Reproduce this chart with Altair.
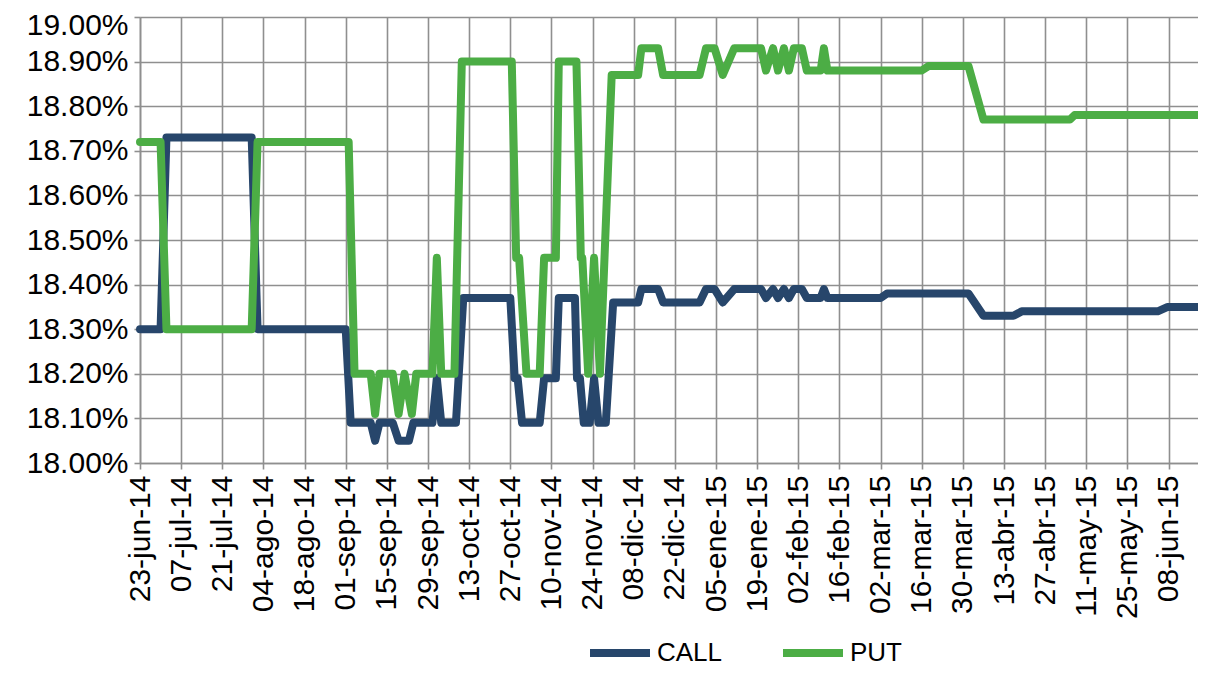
import json
import altair as alt
import pandas as pd

# ---- data (day offsets from 23-jun-2014, values in %) ----
START = "2014-06-23"
END_DAY = 360

call_days = [0, 7, 9, 38, 40, 70, 71.7,
             78.5, 80, 81.5,
             86, 88, 91.5, 93,
             99.5, 101, 102.5,
             107.5, 110,
             126, 127.5, 128.5, 130, 136, 137.5, 141.5, 142.5, 148, 148.7, 149.7, 151, 153, 154.5, 156, 158.5, 161,
             169.5, 170.6, 176.3, 178, 190.4, 192.6, 195.5, 198.3, 202.2, 211.3, 213, 215.4, 217.1, 219.1, 220.8,
             222.5, 225.2, 226.9, 231.6, 232.7, 233.9, 252, 254.2, 281.9, 287, 297.2, 300, 346.3, 349.7, 360]
call_vals = [18.30, 18.30, 18.73, 18.73, 18.30, 18.30, 18.09,
             18.09, 18.05, 18.09,
             18.09, 18.05, 18.05, 18.09,
             18.09, 18.19, 18.09,
             18.09, 18.37,
             18.37, 18.19, 18.19, 18.09, 18.09, 18.19, 18.19, 18.37, 18.37, 18.19, 18.19, 18.09, 18.09, 18.19, 18.09, 18.09, 18.36,
             18.36, 18.39, 18.39, 18.36, 18.36, 18.39, 18.39, 18.36, 18.39, 18.39, 18.37, 18.39, 18.37, 18.39, 18.37,
             18.39, 18.39, 18.37, 18.37, 18.39, 18.37, 18.37, 18.38, 18.38, 18.33, 18.33, 18.34, 18.34, 18.35, 18.35]

put_days = [0, 7, 9, 38, 40, 71, 73,
            78.5, 80, 81.5,
            86, 88, 90, 92.5, 94,
            99.5, 101, 102.5,
            107, 109.5,
            126.5, 128, 129, 131.5, 136, 137.5, 141.5, 142.5, 148.5, 150, 150.5, 152.5, 154.5, 156.5, 160.5,
            169.5, 170.6, 176.3, 178, 190.4, 192.6, 195.5, 198.3, 202.2, 211.3, 213, 215.4, 217.1, 219.1, 220.8,
            222.5, 225.2, 226.9, 231.6, 232.7, 233.9, 266, 268.3, 281.9, 287, 316.4, 318, 360]
put_vals = [18.72, 18.72, 18.30, 18.30, 18.72, 18.72, 18.20,
            18.20, 18.11, 18.20,
            18.20, 18.11, 18.20, 18.11, 18.20,
            18.20, 18.46, 18.20,
            18.20, 18.90,
            18.90, 18.46, 18.46, 18.20, 18.20, 18.46, 18.46, 18.90, 18.90, 18.46, 18.46, 18.20, 18.46, 18.20, 18.87,
            18.87, 18.93, 18.93, 18.87, 18.87, 18.93, 18.93, 18.87, 18.93, 18.93, 18.88, 18.93, 18.88, 18.93, 18.88,
            18.93, 18.93, 18.88, 18.88, 18.93, 18.88, 18.88, 18.89, 18.89, 18.77, 18.77, 18.78, 18.78]

series_names = ["CALL", "PUT"]
series_colors = ["#27466B", "#4CAD45"]

tick_dates = ["2014-06-23", "2014-07-07", "2014-07-21", "2014-08-04", "2014-08-18", "2014-09-01",
              "2014-09-15", "2014-09-29", "2014-10-13", "2014-10-27", "2014-11-10", "2014-11-24",
              "2014-12-08", "2014-12-22", "2015-01-05", "2015-01-19", "2015-02-02", "2015-02-16",
              "2015-03-02", "2015-03-16", "2015-03-30", "2015-04-13", "2015-04-27", "2015-05-11",
              "2015-05-25", "2015-06-08"]
meses = ["ene", "feb", "mar", "abr", "may", "jun", "jul", "ago", "sep", "oct", "nov", "dic"]
y_ticks = [18.0, 18.1, 18.2, 18.3, 18.4, 18.5, 18.6, 18.7, 18.8, 18.9, 19.0]

# ---- build table ----
t0 = pd.Timestamp(START)
rows = []
for name, days, vals in [("CALL", call_days, call_vals), ("PUT", put_days, put_vals)]:
    for i, (d, v) in enumerate(zip(days, vals)):
        rows.append({"fecha": t0 + pd.to_timedelta(d, unit="D"), "valor": v, "serie": name, "orden": i})
df = pd.DataFrame(rows)


def dt(s):
    ts = pd.Timestamp(s)
    return alt.DateTime(year=ts.year, month=ts.month, date=ts.day)


end_ts = t0 + pd.to_timedelta(END_DAY, unit="D")

FONT = "Liberation Sans"
GRID = "#8f8f8f"
FS = 30
LFS = 26

label_expr = ("timeFormat(datum.value, '%d') + '-' + " + json.dumps(meses).replace('"', "'")
              + "[month(datum.value)] + '-' + timeFormat(datum.value, '%y')")

chart = alt.Chart(df).mark_line(strokeWidth=8, strokeCap="round", strokeJoin="round").encode(
    x=alt.X("fecha:T",
            scale=alt.Scale(domain=[dt(START), dt(str(end_ts.date()))], nice=False),
            axis=alt.Axis(values=[dt(s) for s in tick_dates], labelExpr=label_expr, title=None,
                          labelAngle=-90, labelFont=FONT, labelFontSize=FS, labelColor="black",
                          labelPadding=6, tickSize=6, tickColor=GRID, tickWidth=1.6,
                          grid=True, gridColor=GRID, gridWidth=1.6, domainColor=GRID, domainWidth=1.6,
                          labelOverlap=False, labelFlush=False)),
    y=alt.Y("valor:Q",
            scale=alt.Scale(domain=[18.0, 19.0], nice=False, zero=False),
            axis=alt.Axis(values=y_ticks, labelExpr="format(datum.value, '.2f') + '%'", title=None,
                          labelFont=FONT, labelFontSize=FS, labelColor="black", labelPadding=6,
                          labelOffset={"condition": {"test": "datum.value >= 18.99", "value": 8}, "value": 0},
                          tickSize=6, tickColor=GRID, tickWidth=1.6,
                          grid=True, gridColor=GRID, gridWidth=1.6, domainColor=GRID, domainWidth=1.6,
                          labelOverlap=False, labelFlush=False)),
    color=alt.Color("serie:N",
                    scale=alt.Scale(domain=series_names, range=series_colors),
                    legend=alt.Legend(orient="none", legendX=446, legendY=602, direction="horizontal",
                                      title=None, symbolType="stroke", symbolSize=3600,
                                      symbolStrokeWidth=8, labelFont=FONT, labelFontSize=LFS,
                                      labelColor="black", labelOffset=3, columnPadding=44, padding=0)),
    order=alt.Order("orden:Q"),
).properties(
    width=1058, height=446,
    autosize="none",
    padding={"left": 132, "top": 9, "right": 0, "bottom": 207},
).configure_view(strokeWidth=0)

chart.save("out.html", embed_options={"renderer": "svg", "actions": False})
